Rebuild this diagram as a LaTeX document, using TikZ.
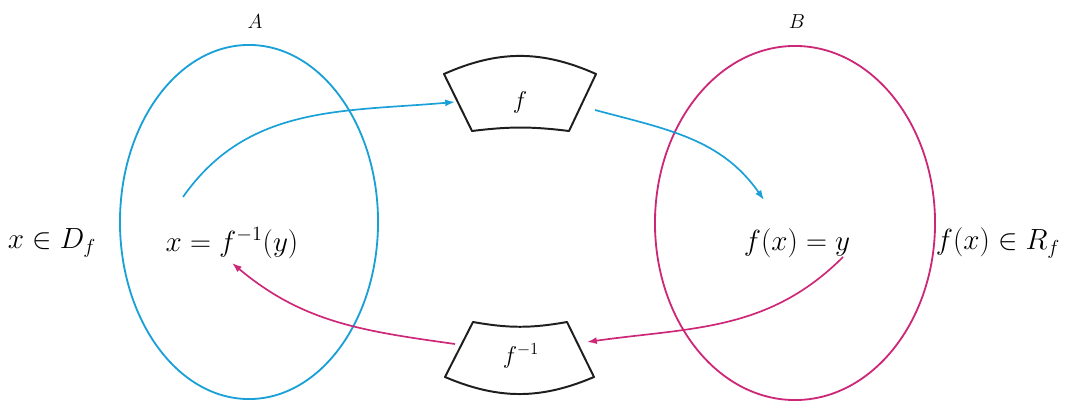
\documentclass[tikz,border=0pt]{standalone}
\usepackage{amsmath}
\usetikzlibrary{arrows.meta,shapes.geometric,calc}
\definecolor{setBlue}{RGB}{25,160,215}
\definecolor{setPink}{RGB}{205,40,120}
\definecolor{boxGray}{RGB}{30,30,30}

\begin{document}
\begin{tikzpicture}[x=0.025cm, y=0.025cm,
    setring/.style={ellipse, draw, line width=1.3pt, inner sep=0pt, minimum height=8.85cm},
    maparrow/.style={line width=1.2pt, -{Latex[length=7pt,width=5pt]}},
    sector/.style={draw=boxGray, line width=1.4pt, line join=round},
    big/.style={font=\fontsize{20}{24}\selectfont},
    setname/.style={font=\Large}
  ]
  \useasboundingbox (0,0) rectangle (1076,403);

  % the two sets
  \node[setring, draw=setBlue, minimum width=6.45cm] (setA) at (249,181) {};
  \node[setring, draw=setPink, minimum width=7.0cm]  (setB) at (795,180) {};
  \node[setname] (labA) at (255,381) {$A$};
  \node[setname] (labB) at (797,381) {$B$};

  % the mapping boxes
  \coordinate (fTL) at (444,329);
  \coordinate (fTR) at (596,329);
  \coordinate (fBR) at (569,272);
  \coordinate (fBL) at (472,272);
  \draw[sector] (fTL) to[bend left=24] (fTR) -- (fBR) to[bend right=7] (fBL) -- cycle;
  \coordinate (gTL) at (473,81);
  \coordinate (gTR) at (567,81);
  \coordinate (gBR) at (594,26);
  \coordinate (gBL) at (445,26);
  \draw[sector] (gTL) to[bend right=10] (gTR) -- (gBR) to[bend left=23] (gBL) -- cycle;
  \node[font=\LARGE] (fmap) at (520,301) {$f$};
  \node[font=\LARGE] (finv) at (521,47) {$f^{-1}$};

  % elements
  \node[big] (xdom) at (52,160)  {$x\in D_f$};
  \node[big] (xpre) at (232,160) {$x=f^{-1}(y)$};
  \node[big] (yimg) at (797,160) {$f(x)=y$};
  \node[big] (yran) at (998,160) {$f(x)\in R_f$};

  % arrow ends
  \coordinate (a1s) at (183,206);
  \coordinate (a1e) at (455,301);
  \coordinate (a2s) at (595,293);
  \coordinate (a2e) at (764,203);
  \coordinate (a3s) at (843,146);
  \coordinate (a3e) at (587,61);
  \coordinate (a4s) at (455,59);
  \coordinate (a4e) at (232,140);

  \draw[maparrow, setBlue] (a1s) to[out=55, in=185] (a1e);
  \draw[maparrow, setBlue] (a2s) to[out=-15, in=125] (a2e);
  \draw[maparrow, setPink] (a3s) to[out=-135, in=8] (a3e);
  \draw[maparrow, setPink] (a4s) to[out=172, in=-40] (a4e);
\end{tikzpicture}
\end{document}
